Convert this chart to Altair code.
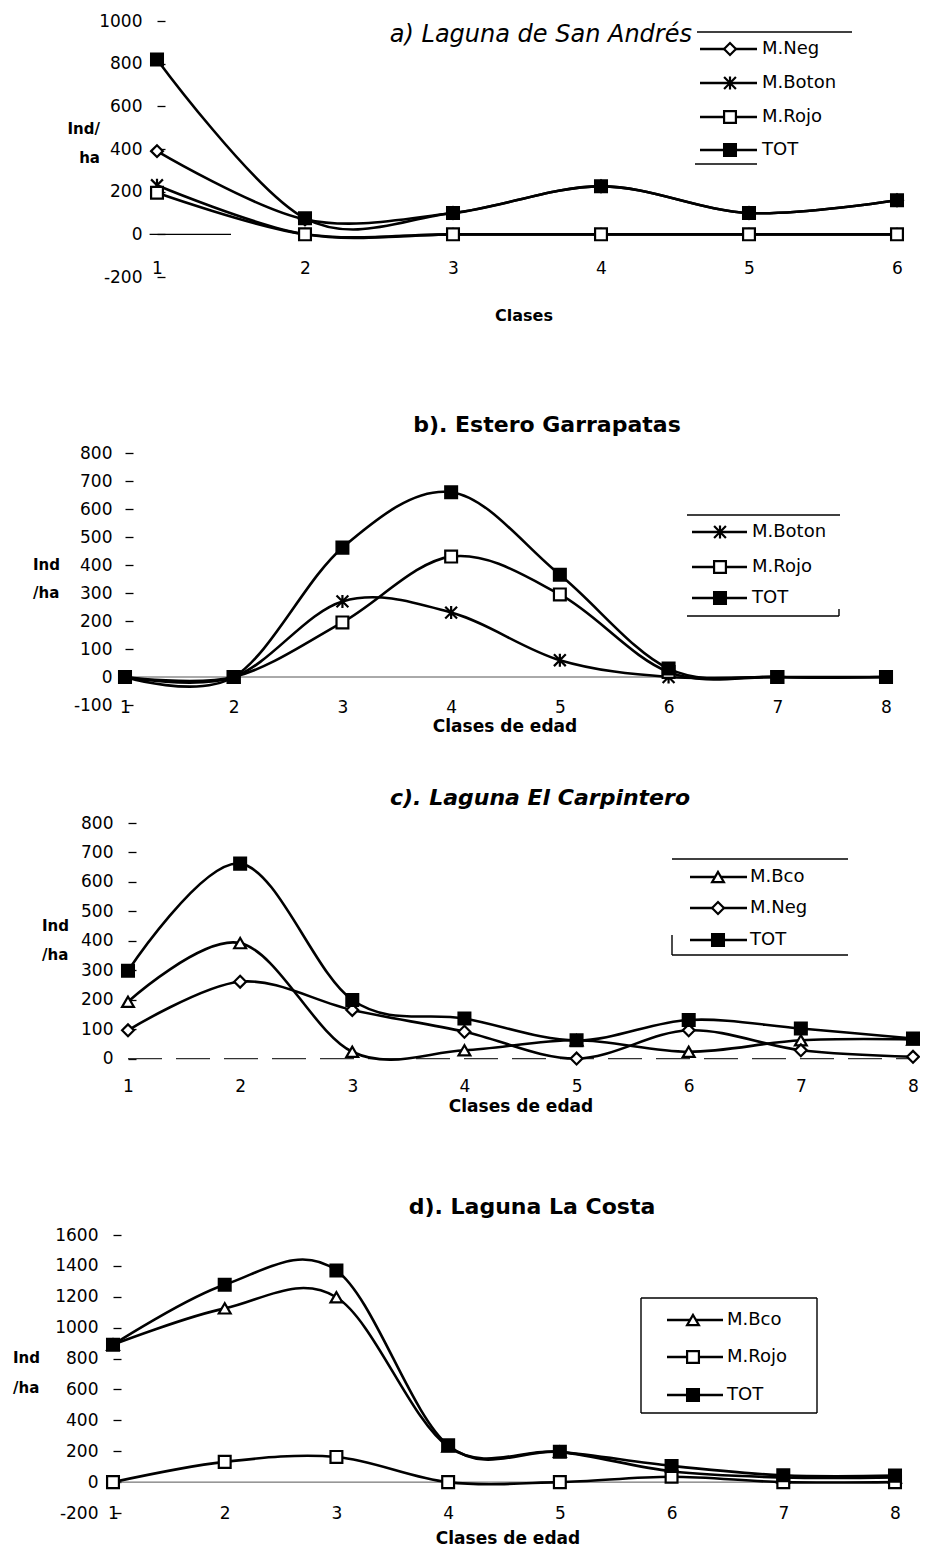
import altair as alt
import pandas as pd

# ---------------- data ----------------
CLASSES_A = [1, 2, 3, 4, 5, 6]
A_NEG = [390, 70, 100, 225, 100, 160]
A_BOTON = [230, 0, 0, 0, 0, 0]
A_ROJO = [195, 0, 0, 0, 0, 0]
A_TOT = [820, 75, 100, 225, 100, 160]

CLASSES_8 = [1, 2, 3, 4, 5, 6, 7, 8]
B_BOTON = [0, 0, 270, 230, 60, 0, 0, 0]
B_ROJO = [0, 0, 195, 430, 295, 18, 0, 0]
B_TOT = [0, 0, 462, 660, 365, 30, 0, 0]

C_BCO = [193, 392, 23, 28, 62, 23, 62, 65]
C_NEG = [96, 261, 165, 91, 0, 96, 28, 6]
C_TOT = [298, 662, 199, 136, 62, 131, 102, 68]

D_BCO = [890, 1125, 1197, 230, 196, 70, 30, 30]
D_ROJO = [0, 131, 163, 0, 0, 35, 0, 0]
D_TOT = [890, 1278, 1370, 239, 196, 105, 44, 42]

A_YTICKS = [-200, 0, 200, 400, 600, 800, 1000]
B_YTICKS = [-100, 0, 100, 200, 300, 400, 500, 600, 700, 800]
C_YTICKS = [0, 100, 200, 300, 400, 500, 600, 700, 800]
D_YTICKS = [-200, 0, 200, 400, 600, 800, 1000, 1200, 1400, 1600]

SERIES = ["M.Neg", "M.Boton", "M.Rojo", "M.Bco", "TOT"]
ASTER = "M-1,-1L1,1M-1,1L1,-1M0,-1.1L0,1.1"
SHAPES = ["diamond", ASTER, "square", "triangle-up", "square"]
FILLS = ["white", "white", "white", "white", "black"]
SHAPE_OF = dict(zip(SERIES, SHAPES))
FILL_OF = dict(zip(SERIES, FILLS))

FONT = "DejaVu Sans"
W, H, OFF, TICK = 912, 1542, 8, 8
MSIZE = 140

SHAPE_SCALE = alt.Scale(domain=SERIES, range=SHAPES)
FILL_SCALE = alt.Scale(domain=SERIES, range=FILLS)
DUMMY = pd.DataFrame({"d": [0]})


def panel(classes, series, yticks, ydom, xpix, ypix, label_right, xlab_y,
          zero_span, zero_dash=None, zero_color="black", zero_width=1.2):
    xs = alt.Scale(domain=[classes[0], classes[-1]],
                   range=[xpix[0] - OFF, xpix[1] - OFF], nice=False, zero=False)
    ys = alt.Scale(domain=ydom, range=[ypix[0] - OFF, ypix[1] - OFF],
                   nice=False, zero=False)
    axis_pos = xpix[0] - OFF + TICK
    xaxis = alt.Axis(values=classes, orient="bottom", offset=(xlab_y - OFF) - H,
                     ticks=False, tickSize=0, labelPadding=0,
                     labelBaseline="middle", domain=False, grid=False,
                     title=None, labelExpr="'' + datum.value",
                     labelOverlap=False, labelFlush=False)
    yaxis = alt.Axis(values=yticks, orient="left", offset=-axis_pos,
                     tickSize=TICK, tickWidth=1.3, tickColor="black",
                     labelPadding=axis_pos - TICK - (label_right - OFF),
                     domain=False, grid=False, title=None,
                     labelExpr="'' + datum.value",
                     labelOverlap=False, labelFlush=False)
    X = alt.X("cls:Q", scale=xs, axis=xaxis)
    Y = alt.Y("val:Q", scale=ys, axis=yaxis)

    rows = []
    for name, vals in series:
        for c, v in zip(classes, vals):
            rows.append({"cls": c, "val": v, "series": name})
    df = pd.DataFrame(rows)
    zdf = pd.DataFrame({"cls": list(zero_span), "val": [0, 0]})

    zkw = dict(color=zero_color, strokeWidth=zero_width)
    if zero_dash:
        zkw["strokeDash"] = zero_dash
    zero = alt.Chart(zdf).mark_line(**zkw).encode(x=X, y=Y)
    lines = alt.Chart(df).mark_line(
        interpolate="cardinal", color="black", strokeWidth=2.6
    ).encode(x=X, y=Y, detail="series:N", order="cls:Q")
    pts = alt.Chart(df).mark_point(
        filled=True, stroke="black", strokeWidth=2.2, size=MSIZE, opacity=1
    ).encode(
        x=X, y=Y,
        shape=alt.Shape("series:N", scale=SHAPE_SCALE, legend=None),
        fill=alt.Fill("series:N", scale=FILL_SCALE, legend=None),
    )
    return alt.layer(zero, lines, pts)


def T(txt, x, y, size, weight="normal", style="normal", align="center"):
    return alt.Chart(DUMMY).mark_text(
        text=txt, font=FONT, fontSize=size, fontWeight=weight, fontStyle=style,
        align=align, baseline="middle", color="black"
    ).encode(x=alt.value(x - OFF), y=alt.value(y - OFF))


def hrule(x0, x1, y, w=1.4):
    return alt.Chart(DUMMY).mark_rule(color="black", strokeWidth=w).encode(
        x=alt.value(x0 - OFF), x2=alt.value(x1 - OFF), y=alt.value(y - OFF))


def vrule(x, y0, y1, w=1.4):
    return alt.Chart(DUMMY).mark_rule(color="black", strokeWidth=w).encode(
        x=alt.value(x - OFF), y=alt.value(y0 - OFF), y2=alt.value(y1 - OFF))


def legend(names, ys, lx0, lx1, mx, tx):
    out = []
    for name, y in zip(names, ys):
        out.append(hrule(lx0, lx1, y, 2.6))
        out.append(alt.Chart(DUMMY).mark_point(
            shape=SHAPE_OF[name], filled=True, fill=FILL_OF[name],
            stroke="black", strokeWidth=2.2, size=MSIZE, opacity=1
        ).encode(x=alt.value(mx - OFF), y=alt.value(y - OFF)))
        out.append(T(name, tx, y, 18, align="left"))
    return out


pa = panel(CLASSES_A, [("M.Neg", A_NEG), ("M.Boton", A_BOTON),
                       ("M.Rojo", A_ROJO), ("TOT", A_TOT)],
           A_YTICKS, [-200, 1000], (157, 897), (277, 21), 142, 268,
           (0.95, 1.5))
pb = panel(CLASSES_8, [("M.Boton", B_BOTON), ("M.Rojo", B_ROJO),
                       ("TOT", B_TOT)],
           B_YTICKS, [-100, 800], (125, 886), (705, 453), 112, 707,
           (1, 8), zero_color="#555555", zero_width=1)
pc = panel(CLASSES_8, [("M.Bco", C_BCO), ("M.Neg", C_NEG), ("TOT", C_TOT)],
           C_YTICKS, [-100, 800], (128, 913), (1088, 823), 113, 1086,
           (1, 8), zero_dash=[34, 14], zero_color="#333333", zero_width=1.2)
pd_ = panel(CLASSES_8, [("M.Bco", D_BCO), ("M.Rojo", D_ROJO), ("TOT", D_TOT)],
            D_YTICKS, [-200, 1600], (113, 895), (1513, 1235), 98, 1513,
            (1, 8), zero_color="#555555", zero_width=1)

texts = [
    T("a) Laguna de San Andrés", 692, 35, 24, style="italic", align="right"),
    T("b). Estero Garrapatas", 547, 425, 22, weight="bold"),
    T("c). Laguna El Carpintero", 540, 798, 22, weight="bold", style="italic"),
    T("d). Laguna La Costa", 532, 1207, 22, weight="bold"),
    T("Clases", 524, 316, 16, weight="bold"),
    T("Clases de edad", 505, 727, 17, weight="bold"),
    T("Clases de edad", 521, 1107, 17, weight="bold"),
    T("Clases de edad", 508, 1539, 17, weight="bold"),
    T("Ind/", 100, 129, 15, weight="bold", align="right"),
    T("ha", 100, 158, 15, weight="bold", align="right"),
    T("Ind", 33, 565, 15, weight="bold", align="left"),
    T("/ha", 33, 593, 15, weight="bold", align="left"),
    T("Ind", 42, 926, 15, weight="bold", align="left"),
    T("/ha", 42, 955, 15, weight="bold", align="left"),
    T("Ind", 13, 1358, 15, weight="bold", align="left"),
    T("/ha", 13, 1388, 15, weight="bold", align="left"),
]

legends = []
legends += legend(["M.Neg", "M.Boton", "M.Rojo", "TOT"], [49, 83, 117, 150],
                  700, 757, 730, 762)
legends += [hrule(697, 852, 32), hrule(695, 757, 164)]
legends += legend(["M.Boton", "M.Rojo", "TOT"], [532, 567, 598],
                  692, 747, 720, 752)
legends += [hrule(687, 840, 515), hrule(687, 839, 616), vrule(839, 609, 616)]
legends += legend(["M.Bco", "M.Neg", "TOT"], [877, 908, 940],
                  690, 747, 718, 750)
legends += [hrule(672, 848, 859), hrule(672, 848, 955), vrule(672, 935, 955)]
legends += legend(["M.Bco", "M.Rojo", "TOT"], [1320, 1357, 1395],
                  667, 723, 693, 727)
legends += [hrule(641, 817, 1298), hrule(641, 817, 1413),
            vrule(641, 1298, 1413), vrule(817, 1298, 1413)]

chart = alt.layer(pa, pb, pc, pd_, *texts, *legends).resolve_scale(
    x="independent", y="independent"
).properties(
    width=W, height=H, padding=0,
    autosize=alt.AutoSizeParams(type="none"),
).configure_view(stroke=None).configure_axis(
    labelFont=FONT, labelFontSize=17, labelColor="black", tickColor="black"
)

chart.save("out.html", embed_options={"renderer": "svg", "actions": False})
